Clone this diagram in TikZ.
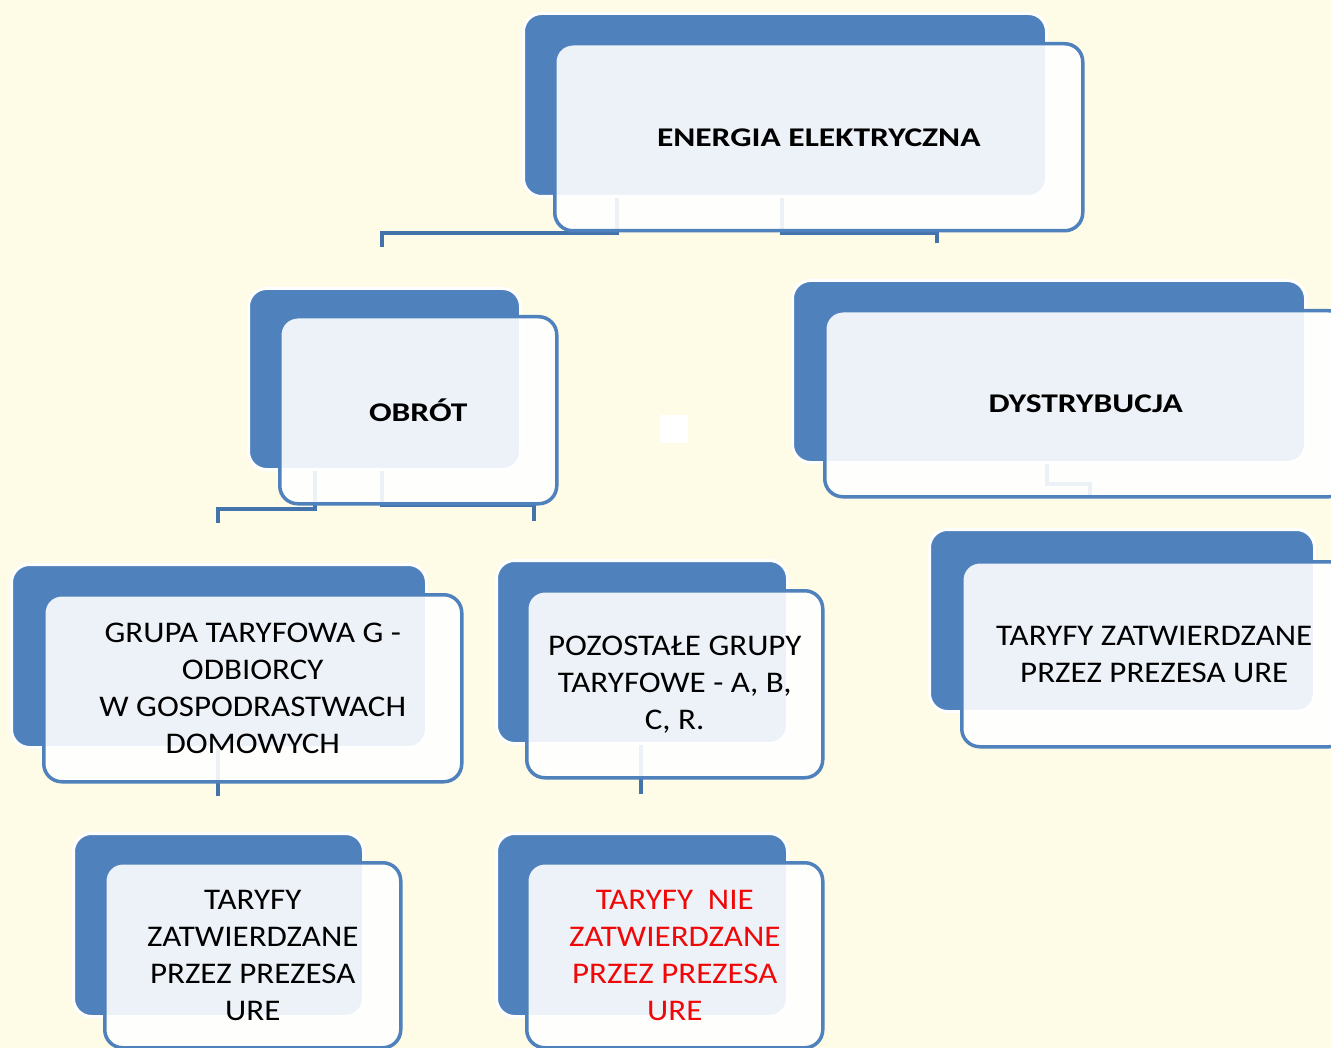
\documentclass[tikz,border=0pt]{standalone}
\usepackage{fontspec}
\setmainfont{Carlito}[FakeStretch=1.1]
\newfontfamily\headfont{Carlito}[FakeStretch=1.24]
\usetikzlibrary{calc}
\definecolor{bg}{RGB}{254,251,231}
\definecolor{accent}{RGB}{79,129,189}
\definecolor{conncol}{RGB}{68,114,170}
\definecolor{txtred}{RGB}{240,8,8}
\tikzset{
  backbox/.style={rectangle, rounded corners=18pt, fill=accent, draw=white, line width=3pt, anchor=north west, inner sep=0pt},
  frontbox/.style={rectangle, rounded corners=18pt, fill=white, fill opacity=0.9, text opacity=1, draw=accent, draw opacity=1, line width=3.5pt, anchor=north west, align=center, font=\fontsize{30}{37}\selectfont, inner sep=0pt},
  headbox/.style={frontbox, font=\headfont\bfseries\fontsize{27}{33}\selectfont},
  link/.style={draw=conncol, line width=4pt},
}
\begin{document}
\begin{tikzpicture}[x=1pt,y=-1pt]
\useasboundingbox (0,0) rectangle (1331,1048);
\fill[bg] (0,0) rectangle (1331,1048);
\clip (0,0) rectangle (1331,1048);
% back boxes
\node[backbox, minimum width=523, minimum height=183] (Eb) at (522,12) {};
\node[backbox, minimum width=272, minimum height=181] (Ob) at (247,287) {};
\node[backbox, minimum width=513, minimum height=182] (Db) at (791,279) {};
\node[backbox, minimum width=415, minimum height=183] (Gb) at (10,563) {};
\node[backbox, minimum width=291, minimum height=183] (Pb) at (495,559) {};
\node[backbox, minimum width=385, minimum height=182] (Tb) at (928,528) {};
\node[backbox, minimum width=290, minimum height=183] (Lb) at (72,832) {};
\node[backbox, minimum width=291, minimum height=183] (Nb) at (495,832) {};
% connector free ends
\coordinate (c1) at (382,233); \coordinate (c1e) at (382,247);
\coordinate (c2) at (937,233); \coordinate (c2e) at (937,243);
\coordinate (c3) at (218,509); \coordinate (c3e) at (218,523);
\coordinate (c4) at (534,505); \coordinate (c4e) at (534,521);
\coordinate (c5) at (1090,484); \coordinate (c5e) at (1090,497);
\coordinate (c6e) at (218,796);
\coordinate (c7e) at (641,794);
% connectors
\draw[link] ($(Eb.south west)+(95,0)$) |- (c1) -- (c1e);
\draw[link] ($(Eb.south west)+(260,0)$) |- (c2) -- (c2e);
\draw[link] ($(Ob.south west)+(68,0)$) |- (c3) -- (c3e);
\draw[link] ($(Ob.south west)+(135,0)$) |- (c4) -- (c4e);
\draw[link] ($(Db.south west)+(256,0)$) |- (c5) -- (c5e);
\draw[link] ($(Gb.south west)+(208,0)$) -- (c6e);
\draw[link] ($(Pb.south west)+(146,0)$) -- (c7e);
% front boxes
\node[headbox, minimum width=528, minimum height=187] (Ef) at (553,42) {ENERGIA ELEKTRYCZNA};
\node[headbox, minimum width=277, minimum height=187] (Of) at (278,315) {OBRÓT};
\node[headbox, minimum width=522, minimum height=186] (Df) at (823,309) {DYSTRYBUCJA};
\node[frontbox, minimum width=418, minimum height=187] (Gf) at (42,593) {GRUPA TARYFOWA G -\\ODBIORCY\\W GOSPODRASTWACH\\DOMOWYCH};
\node[frontbox, minimum width=296, minimum height=187] (Pf) at (525,589) {POZOSTAŁE GRUPY\\TARYFOWE - A, B,\\C, R.};
\node[frontbox, minimum width=385, minimum height=185] (Tf) at (960,560) {TARYFY ZATWIERDZANE\\PRZEZ PREZESA URE};
\node[frontbox, minimum width=296, minimum height=185] (Lf) at (103,861) {TARYFY\\ZATWIERDZANE\\PRZEZ PREZESA\\URE};
\node[frontbox, minimum width=296, minimum height=185, text=txtred] (Nf) at (525,861) {TARYFY\ \ NIE\\ZATWIERDZANE\\PRZEZ PREZESA\\URE};
% small white square
\node[fill=white, minimum size=28, inner sep=0pt, anchor=north west] (sq) at (660,415) {};
\end{tikzpicture}
\end{document}
